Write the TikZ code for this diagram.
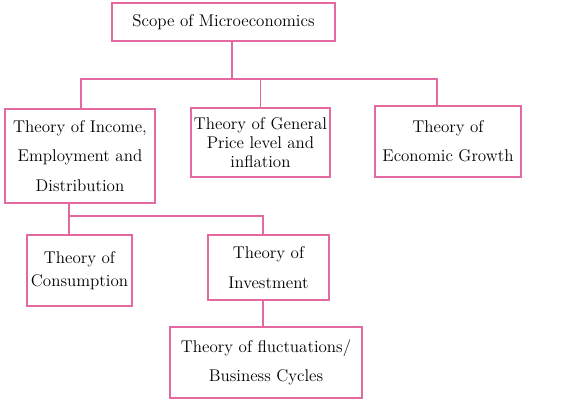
\documentclass[tikz,border=0pt]{standalone}
\usetikzlibrary{positioning}
\definecolor{linkpink}{RGB}{228,105,160}

\begin{document}
\begin{tikzpicture}[
    x=0.03cm, y=-0.03cm,
    box/.style={rectangle, draw=linkpink, line width=0.9pt, align=center, inner sep=0pt},
    link/.style={draw=linkpink, line width=0.9pt},
    every node/.style={font=\fontsize{14.5}{16}\selectfont}
]
\useasboundingbox (0,0) rectangle (567,400);

% Boxes
\node[box, minimum width=223*0.03cm, minimum height=38*0.03cm] (scope) at (223.5,22) {Scope of Microeconomics};
\node[box, minimum width=150*0.03cm, minimum height=94*0.03cm] (income) at (80,156) {Theory of Income,\\[9pt] Employment and\\[9pt] Distribution};
\node[box, minimum width=139*0.03cm, minimum height=69*0.03cm] (general) at (260.5,142.5) {Theory of General\\ Price level and\\ inflation};
\node[box, minimum width=146*0.03cm, minimum height=71*0.03cm] (growth) at (448,141.5) {Theory of\\[9pt] Economic Growth};
\node[box, minimum width=105*0.03cm, minimum height=71*0.03cm] (consumption) at (79.5,270.5) {Theory of\\[4pt] Consumption};
\node[box, minimum width=121*0.03cm, minimum height=65*0.03cm] (investment) at (268.5,267.5) {Theory of\\[9pt] Investment};
\node[box, minimum width=192*0.03cm, minimum height=71*0.03cm] (fluct) at (266,362.5) {Theory of fluctuations/\\[9pt] Business Cycles};

% Junctions
\coordinate (top) at (232,79);
\coordinate (busL) at (81,79);
\coordinate (busR) at (437,79);
\coordinate (lowL) at (69,216);
\coordinate (lowR) at (263,216);

% Links
\draw[link] (top |- scope.south) -- (top);
\draw[link] (busL |- income.north) -- (busL) -- (busR) -- (busR |- growth.north);
\draw[link] (general.north) -- (general.north |- busL);
\draw[link] (lowL |- income.south) -- (lowL |- consumption.north);
\draw[link] (lowL) -- (lowR) -- (lowR |- investment.north);
\draw[link] (lowR |- investment.south) -- (lowR |- fluct.north);

\end{tikzpicture}
\end{document}
